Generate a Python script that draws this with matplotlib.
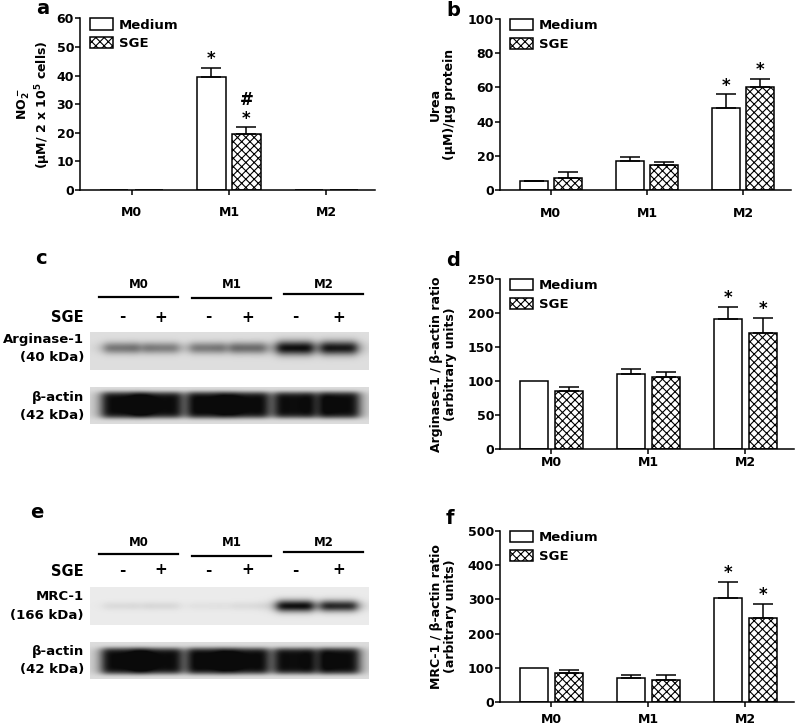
import matplotlib
matplotlib.use("Agg")
import matplotlib.pyplot as plt
import numpy as np
from matplotlib.patches import Patch

plt.rcParams["font.family"] = ["DejaVu Sans"]
plt.rcParams["font.weight"] = "bold"
plt.rcParams["axes.labelweight"] = "bold"
plt.rcParams["mathtext.fontset"] = "custom"
plt.rcParams["mathtext.rm"] = "DejaVu Sans:bold"
plt.rcParams["mathtext.bf"] = "DejaVu Sans:bold"
plt.rcParams["mathtext.it"] = "DejaVu Sans:bold"
plt.rcParams["mathtext.default"] = "bf"
plt.rcParams["hatch.linewidth"] = 0.8

# ---- data ----
groups = ["M0", "M1", "M2"]

no2_medium = [0, 39.5, 0]
no2_medium_top = [0, 42.8, 0]
no2_sge = [0, 19.5, 0]
no2_sge_top = [0, 21.9, 0]
no2_medium_sig = ["", "*", ""]
no2_sge_sig = ["", "#\n*", ""]

urea_medium = [5, 17, 48]
urea_medium_top = [5.5, 19.3, 56]
urea_sge = [7, 14.5, 60]
urea_sge_top = [10.5, 16.5, 65]
urea_medium_sig = ["", "", "*"]
urea_sge_sig = ["", "", "*"]

arg_medium = [100, 110, 191]
arg_medium_top = [100, 117, 209]
arg_sge = [86, 106, 171]
arg_sge_top = [91, 113, 193]
arg_medium_sig = ["", "", "*"]
arg_sge_sig = ["", "", "*"]

mrc_medium = [100, 71, 305]
mrc_medium_top = [100, 78, 351]
mrc_sge = [84, 63, 245]
mrc_sge_top = [95, 78, 288]
mrc_medium_sig = ["", "", "*"]
mrc_sge_sig = ["", "", "*"]

# western blot lanes (M0-, M0+, M1-, M1+, M2-, M2+), relative band darkness
sge_signs = ["-", "+", "-", "+", "-", "+"]
arg1_bands = [0.48, 0.44, 0.46, 0.52, 0.97, 0.93]
actin_c_bands = [1.0, 0.97, 1.0, 0.98, 0.97, 1.0]
mrc1_bands = [0.07, 0.08, 0.04, 0.06, 0.97, 0.85]
actin_e_bands = [1.0, 0.97, 1.0, 0.98, 0.97, 1.0]

W, H = 797, 728
fig = plt.figure(figsize=(W / 100, H / 100), dpi=100)

# overlay in pixel coordinates for blots and panel letters
ov = fig.add_axes([0, 0, 1, 1])
ov.set_xlim(0, W)
ov.set_ylim(H, 0)
ov.axis("off")


def px_axes(left, top, right, bottom):
    return fig.add_axes([left / W, 1 - bottom / H, (right - left) / W, (bottom - top) / H])


def bar_panel(box, med, med_top, sge, sge_top, med_sig, sge_sig, ymax, ystep, ylabel,
              label_right, xpad):
    ax = px_axes(*box)
    x = np.arange(len(groups))
    off, bw = 0.18, 0.29
    med = np.array(med, float)
    sge = np.array(sge, float)
    med_err = np.array(med_top, float) - med
    sge_err = np.array(sge_top, float) - sge
    ax.bar(x - off, med, bw, color="white", edgecolor="black", linewidth=1.1, zorder=2)
    ax.bar(x + off, sge, bw, color="white", edgecolor="black", linewidth=1.1,
           hatch="xxxx", zorder=2)
    for xs, v, e in [(x - off, med, med_err), (x + off, sge, sge_err)]:
        m = e > 0
        ax.errorbar(xs[m], v[m], yerr=[np.zeros(m.sum()), e[m]], fmt="none",
                    ecolor="black", elinewidth=1.1, capsize=7, capthick=1.1, zorder=3)
    for xs, tops, sig in [(x - off, med_top, med_sig), (x + off, sge_top, sge_sig)]:
        for xi, t, s in zip(xs, tops, sig):
            if s:
                ax.annotate(s, (xi, t), xytext=(0, 2.5), textcoords="offset points",
                            ha="center", va="baseline", fontsize=12, linespacing=1.05)
    ax.set_xlim(-0.53, 2.5)
    ax.set_ylim(0, ymax)
    ax.set_yticks(np.arange(0, ymax + 1, ystep))
    ax.set_xticks(x)
    ax.set_xticklabels(groups)
    for s in ["top", "right"]:
        ax.spines[s].set_visible(False)
    for s in ["left", "bottom"]:
        ax.spines[s].set_linewidth(1.1)
    ax.tick_params(axis="both", width=1.1, length=3.5, labelsize=9)
    ax.tick_params(axis="y", pad=0.8)
    ax.tick_params(axis="x", pad=xpad)
    ax.set_ylabel(ylabel, fontsize=9, fontweight="bold", linespacing=1.1)
    left, top, right, bottom = box
    ax.yaxis.set_label_coords((label_right - left) / (right - left), 0.5)
    handles = [Patch(facecolor="white", edgecolor="black", linewidth=1.1, label="Medium"),
               Patch(facecolor="white", edgecolor="black", linewidth=1.1, hatch="xxxx",
                     label="SGE")]
    ax.legend(handles=handles, loc="upper left", bbox_to_anchor=(0.035, 1.0), frameon=False,
              fontsize=9.5, handlelength=1.7, handleheight=0.95, handletextpad=0.45,
              labelspacing=0.4, borderaxespad=0, borderpad=0)
    return ax


bar_panel((80, 18.5, 375, 190), no2_medium, no2_medium_top, no2_sge, no2_sge_top,
          no2_medium_sig, no2_sge_sig, 60, 10,
          "NO$_2^-$\n(\u00b5M/ 2 x 10$^5$ cells)", 53, 8.3)
bar_panel((500, 19, 791, 190), urea_medium, urea_medium_top, urea_sge, urea_sge_top,
          urea_medium_sig, urea_sge_sig, 100, 20, "Urea\n(\u00b5M)/\u00b5g protein", 456, 9)
bar_panel((500, 279, 794, 449), arg_medium, arg_medium_top, arg_sge, arg_sge_top,
          arg_medium_sig, arg_sge_sig, 250, 50,
          "Arginase-1 / \u03b2-actin ratio\n(arbitrary units)", 457, 1.2)
bar_panel((500, 531, 794, 702), mrc_medium, mrc_medium_top, mrc_sge, mrc_sge_top,
          mrc_medium_sig, mrc_sge_sig, 500, 100,
          "MRC-1 / \u03b2-actin ratio\n(arbitrary units)", 457, 4.7)

# ---- western blots ----
lane_x = [122, 161, 208, 248, 295, 339]
blot_left, blot_right = 90, 369


def draw_blot(levels, top, bottom, yc, half_h, power_y, lane_hw, bg):
    xs = np.arange(blot_left, blot_right) + 0.5
    ys = np.arange(top, bottom) + 0.5
    img = np.full((len(ys), len(xs)), bg)
    for cx, lv in zip(lane_x, levels):
        hh = half_h * (0.75 + 0.35 * lv)
        px = 1 / (1 + ((xs - cx) / lane_hw) ** 6)
        py = np.exp(-np.abs((ys - yc) / hh) ** power_y)
        img -= (bg - 0.04) * lv * np.outer(py, px)
    img = np.clip(img, 0.04, 1)
    ov.imshow(img, cmap="gray", vmin=0, vmax=1, aspect="auto", interpolation="bilinear",
              extent=(blot_left, blot_right, bottom, top))


def blot_header(y_lab, y_sign, lines_y):
    spans = [(99, 178), (192, 271), (284, 363)]
    for g, (a, b), ly in zip(groups, spans, lines_y):
        ov.text((a + b) / 2, y_lab, g, ha="center", va="center", fontsize=8.5)
        ov.plot([a, b], [ly, ly], color="black", linewidth=1.6)
    ov.text(84, y_sign, "SGE", ha="right", va="center", fontsize=10.5)
    for lx, s in zip(lane_x, sge_signs):
        ov.text(lx, y_sign - 1, s, ha="center", va="center", fontsize=11)


# panel c
blot_header(284, 318, [297, 298, 294])
draw_blot(arg1_bands, 332, 370, 348, 6.5, 2, 19, 0.87)
draw_blot(actin_c_bands, 387, 424, 405, 12, 6, 21, 0.86)
ov.text(84, 339, "Arginase-1", ha="right", va="center", fontsize=9.5)
ov.text(84, 358, "(40 kDa)", ha="right", va="center", fontsize=9.5)
ov.text(84, 397, "\u03b2-actin", ha="right", va="center", fontsize=9.5)
ov.text(84, 415, "(42 kDa)", ha="right", va="center", fontsize=9.5)

# panel e
blot_header(543, 571, [554, 556, 552])
draw_blot(mrc1_bands, 587, 625, 606, 5.5, 2, 19, 0.92)
draw_blot(actin_e_bands, 642, 679, 661, 12, 6, 21, 0.86)
ov.text(84, 597, "MRC-1", ha="right", va="center", fontsize=9.5)
ov.text(84, 616, "(166 kDa)", ha="right", va="center", fontsize=9.5)
ov.text(84, 651, "\u03b2-actin", ha="right", va="center", fontsize=9.5)
ov.text(84, 670, "(42 kDa)", ha="right", va="center", fontsize=9.5)

ov.set_xlim(0, W)
ov.set_ylim(H, 0)

# panel letters
for letter, lx, ly in [("a", 36, 9), ("b", 446, 10), ("c", 35, 259), ("d", 446, 261),
                       ("e", 30, 513), ("f", 446, 518)]:
    ov.text(lx, ly, letter, ha="left", va="center", fontsize=14)

fig.savefig("out.png", dpi=100)
